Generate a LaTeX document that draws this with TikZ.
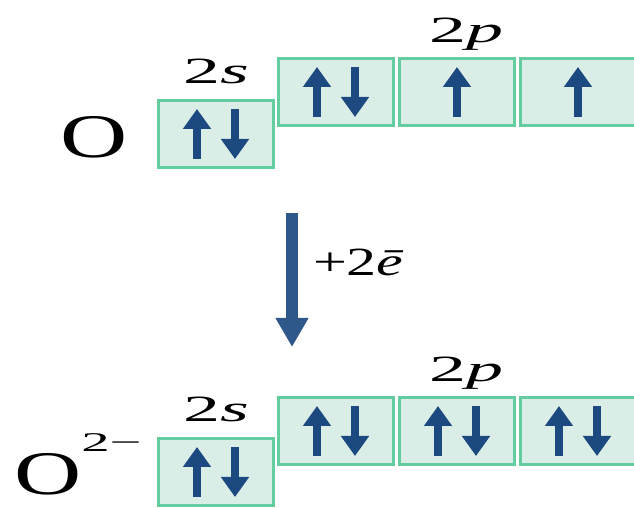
\documentclass[tikz,border=0pt]{standalone}
\usepackage{fontspec}
\setmainfont{Liberation Serif}
\usepackage{graphicx}
\usetikzlibrary{positioning, arrows.meta, calc}

\definecolor{boxgreen}{RGB}{100,205,160}
\definecolor{boxfill}{RGB}{218,237,230}
\definecolor{spinblue}{RGB}{28,74,128}
\newcommand{\wide}[2][1.5]{\scalebox{#1}[1]{#2}}

\begin{document}
\begin{tikzpicture}[
    x=1pt, y=1pt,
    node distance=3pt,
    box/.style={rectangle, draw=boxgreen, fill=boxfill, line width=3pt, minimum width=115pt, minimum height=67pt, inner sep=0pt},
    spin/.style={-{Triangle[length=20pt, width=27pt]}, line width=8pt, color=spinblue},
    arrow/.style={-{Triangle[length=29pt, width=31pt]}, line width=12pt, color=spinblue!92!white},
    sub/.style={font=\fontsize{37}{37}\selectfont, inner sep=0pt},
    atom/.style={font=\fontsize{62}{62}\selectfont, inner sep=0pt},
]
\useasboundingbox (0,0) rectangle (634,508);

%% OXYGEN ATOM
    \node[box] (os) at (216,374) {};
    \node[box, anchor=south west] (op1) at ([xshift=2pt, yshift=-28pt]os.north east) {};
    \node[box, right=of op1] (op2) {};
    \node[box, right=of op2] (op3) {};

    \node[sub, above=15pt of os] (osl) {\wide[2]{2\textit{s}}};
    \node[sub, above=6pt of op2, xshift=9pt] (opl) {\wide[2]{2\textit{p}}};
    \node[atom, left=29pt of os, yshift=-3pt] (o) {\wide{O}};

%% OXIDE ION
    \node[box] (fs) at (216,36) {};
    \node[box, anchor=south west] (fp1) at ([xshift=2pt, yshift=-29pt]fs.north east) {};
    \node[box, right=of fp1] (fp2) {};
    \node[box, right=of fp2] (fp3) {};

    \node[sub, above=15pt of fs] (fsl) {\wide[2]{2\textit{s}}};
    \node[sub, above=6pt of fp2, xshift=9pt] (fpl) {\wide[2]{2\textit{p}}};
    \node[atom, anchor=base west] (ion) at (14,13)
        {\wide{O}\raisebox{43pt}{\fontsize{27}{27}\selectfont\wide[2.1]{2−}}};

%% SPINS
    \foreach \b in {os, op1, fs, fp1, fp2, fp3} {
        \draw[spin] ([xshift=-19pt, yshift=-25pt]\b.center) -- ++(0,50);
        \draw[spin] ([xshift=19pt, yshift=25pt]\b.center) -- ++(0,-50);
    }
    \foreach \b in {op2, op3}
        \draw[spin] ([yshift=-25pt]\b.center) -- ++(0,50);

%% ELECTRON GAIN
    \coordinate (from) at (292,295);
    \coordinate (to) at (292,161);
    \draw[arrow] (from) -- (to) node[pos=0.37, right=15pt, font=\fontsize{40}{40}\selectfont, inner sep=0pt, text=black] (gain) {\wide{+2\textit{ē}}};

\end{tikzpicture}
\end{document}
